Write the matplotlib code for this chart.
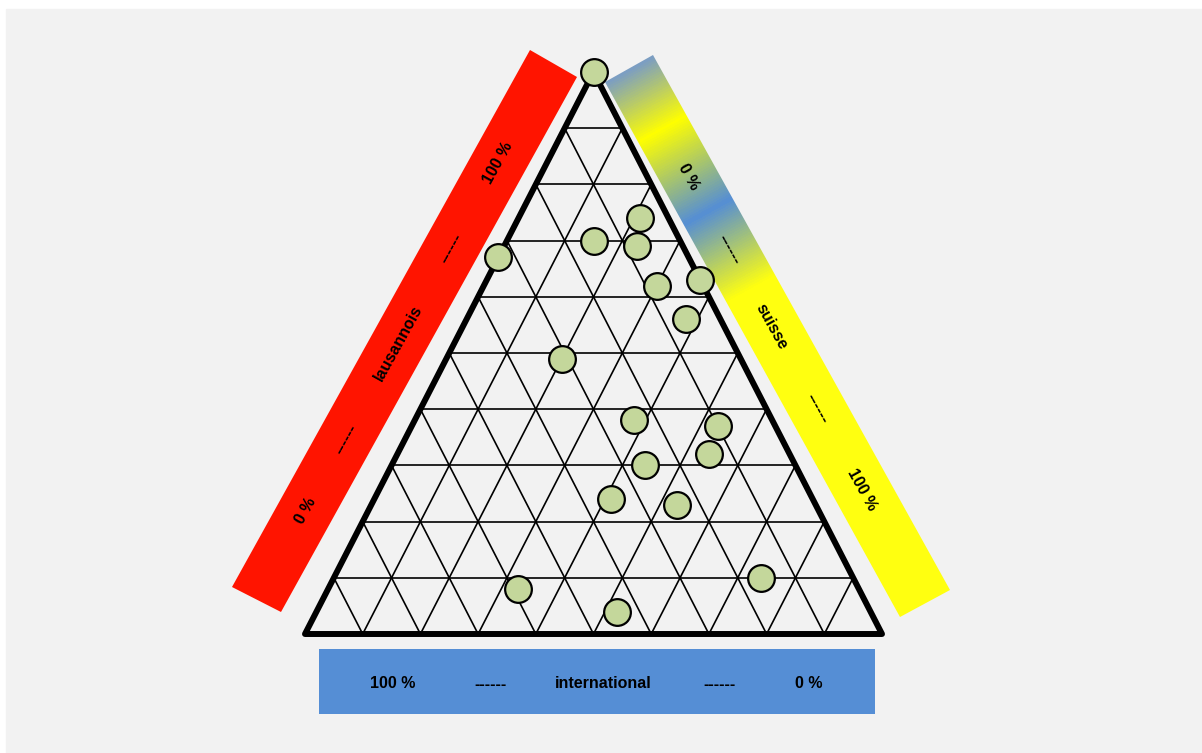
"""
Ternary plot: lausannois / suisse / international shares, drawn in pixel space.
"""
import numpy as np
import matplotlib
matplotlib.use("Agg")
import matplotlib.pyplot as plt
from matplotlib.patches import Polygon, Rectangle
from matplotlib.colors import LinearSegmentedColormap

# data, in % (each row sums to 100)
lausannois    = [100, 74, 70, 69, 67, 62, 63, 56, 49, 38, 37, 32, 30, 24, 23, 10,  8,  4]
suisse        = [  0, 21, 15, 23,  0, 30, 37, 38, 20, 38, 53, 54, 44, 41, 53, 74, 33, 52]
international = [  0,  5, 15,  8, 33,  8,  0,  6, 31, 24, 10, 14, 26, 35, 24, 16, 59, 44]

left_labels   = ["0 %", "------", "lausannois", "------", "100 %"]
right_labels  = ["0 %", "------", "suisse", "------", "100 %"]
bottom_labels = ["100 %", "------", "international", "------", "0 %"]

# layout (pixels, y down)
TOP, LEFT, RIGHT = (593.5, 72.0), (305.0, 634.0), (882.0, 634.0)
RED_BAND = [(530, 50), (577, 77), (281, 612), (232, 587)]
YEL_BAND = [(605, 82), (653, 55), (950, 590), (900, 617)]
FONT = ["Liberation Sans Narrow", "Liberation Sans", "DejaVu Sans"]


def tern(l, s, i):
    l, s, i = np.asarray(l) / 100, np.asarray(s) / 100, np.asarray(i) / 100
    x = l * TOP[0] + i * LEFT[0] + s * RIGHT[0]
    y = l * TOP[1] + i * LEFT[1] + s * RIGHT[1]
    return x, y


fig = plt.figure(figsize=(12.02, 7.53), dpi=100, facecolor="white")
ax = fig.add_axes([0, 0, 1, 1])
ax.set_xlim(0, 1202)
ax.set_ylim(753, 0)
ax.axis("off")

ax.add_patch(Rectangle((6, 9), 1202 - 6, 753 - 9, color="#f2f2f2", zorder=0))

# red band (left)
ax.add_patch(Polygon(RED_BAND, closed=True, color="#ff1400", lw=0, zorder=1))

# yellow/blue gradient band (right)
yel = Polygon(YEL_BAND, closed=True, fill=False, lw=0, zorder=1)
ax.add_patch(yel)
top_mid = np.mean(YEL_BAND[:2], axis=0)
bot_mid = np.mean(YEL_BAND[2:], axis=0)
axis_vec = bot_mid - top_mid
length = np.hypot(*axis_vec)
gx, gy = np.meshgrid(np.arange(595, 960), np.arange(45, 625))
t = ((gx - top_mid[0]) * axis_vec[0] + (gy - top_mid[1]) * axis_vec[1]) / length**2
cmap = LinearSegmentedColormap.from_list(
    "ybl", [(0, "#7c9ec2"), (0.11, "#ffff00"), (0.265, "#558ed5"),
            (0.41, "#ffff10"), (1, "#ffff10")])
im = ax.imshow(np.clip(t, 0, 1), cmap=cmap, vmin=0, vmax=1, origin="upper",
               extent=(595, 960, 625, 45), aspect="auto", zorder=1,
               interpolation="bilinear")
im.set_clip_path(yel)

# blue band (bottom)
ax.add_patch(Rectangle((319, 649), 875 - 319, 714 - 649, color="#558ed5", lw=0, zorder=1))

# band texts
def band_text(p0, p1, fracs, labels, rot):
    p0, p1 = np.asarray(p0, float), np.asarray(p1, float)
    for f, lab in zip(fracs, labels):
        x, y = p0 + f * (p1 - p0)
        ax.text(x, y, lab, rotation=rot, rotation_mode="anchor", ha="center",
                va="center", fontsize=11.5, fontweight="bold", family=FONT, zorder=5)

band_text(np.mean(RED_BAND[2:], axis=0), np.mean(RED_BAND[:2], axis=0),
          [0.165, 0.30, 0.478, 0.656, 0.814], left_labels, 61.1)
band_text(top_mid, bot_mid, [0.202, 0.338, 0.483, 0.636, 0.788], right_labels, -61.0)
band_text((319, 684), (875, 684), [0.133, 0.308, 0.511, 0.721, 0.881], bottom_labels, 0)

# ternary grid
for k in range(1, 10):
    f = k * 10
    for a, b in [((f, 0, 100 - f), (f, 100 - f, 0)),
                 ((100 - f, f, 0), (0, f, 100 - f)),
                 ((100 - f, 0, f), (0, 100 - f, f))]:
        xs, ys = tern(*zip(a, b))
        ax.plot(xs, ys, color="black", lw=1.2, zorder=2)

# outline
ox, oy = tern([100, 0, 0, 100], [0, 0, 100, 0], [0, 100, 0, 0])
ax.plot(ox, oy, color="black", lw=4.3, solid_joinstyle="round",
        solid_capstyle="round", zorder=3)

# points
px, py = tern(lausannois, suisse, international)
ax.scatter(px, py, s=370, facecolor="#c4d79b", edgecolor="black", lw=1.6, zorder=4)

fig.savefig("out.png", dpi=100, facecolor="white")
